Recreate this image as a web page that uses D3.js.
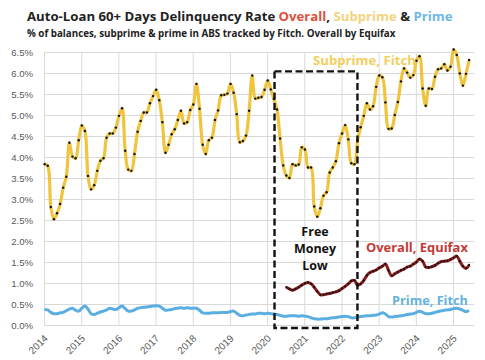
<!DOCTYPE html>
<html><head><meta charset="utf-8">
<script src="https://cdn.jsdelivr.net/npm/d3@7"></script>
<style>html,body{margin:0;padding:0;background:#fff;}svg{display:block;}</style>
</head><body>
<svg id="c" width="485" height="360"></svg>
<script>
// ---- data ----
const firstMonth = "2014-01";
const subprime = [
 3.83,3.79,2.81,2.52,2.66,2.88,3.27,3.53,4.34,4.01,3.97,4.40,
 4.75,4.62,3.55,3.23,3.33,3.67,3.91,3.97,4.46,4.56,4.56,4.70,
 4.98,5.16,4.15,3.70,3.67,4.07,4.60,4.86,5.06,5.06,5.28,5.45,
 5.60,5.35,4.83,4.10,4.29,4.54,4.66,4.88,5.10,4.80,4.83,5.12,
 5.25,5.74,5.15,4.29,4.07,4.40,4.46,4.88,5.11,5.47,5.48,5.51,
 5.74,5.53,5.02,4.35,4.38,4.51,5.10,5.94,5.39,5.41,5.43,5.60,
 5.82,5.61,5.38,5.13,4.44,3.80,3.56,3.50,3.83,3.80,3.82,4.23,
 4.18,3.75,3.75,2.82,2.58,2.78,3.08,3.16,3.63,3.75,3.90,4.33,
 4.56,4.76,4.42,3.85,3.83,4.40,4.71,4.98,5.28,5.13,5.21,5.67,
 5.94,5.90,5.30,4.67,4.68,5.00,5.31,5.80,6.11,6.01,5.89,5.95,
 6.29,6.40,5.63,5.22,5.63,5.62,5.91,6.09,6.11,6.21,6.06,6.15,
 6.56,6.43,5.99,5.70,5.98,6.31
];
const prime = [
 0.37,0.36,0.30,0.27,0.27,0.29,0.30,0.34,0.38,0.40,0.35,0.33,
 0.40,0.45,0.38,0.27,0.25,0.28,0.31,0.33,0.36,0.40,0.38,0.37,
 0.41,0.45,0.39,0.33,0.33,0.36,0.40,0.41,0.42,0.43,0.44,0.45,
 0.46,0.45,0.40,0.35,0.36,0.37,0.39,0.40,0.41,0.40,0.41,0.40,
 0.40,0.40,0.35,0.29,0.28,0.28,0.29,0.29,0.29,0.30,0.30,0.30,
 0.32,0.33,0.28,0.23,0.22,0.24,0.25,0.26,0.26,0.28,0.28,0.27,
 0.28,0.27,0.26,0.25,0.23,0.21,0.21,0.22,0.22,0.22,0.21,0.22,
 0.21,0.20,0.17,0.15,0.14,0.14,0.15,0.15,0.16,0.17,0.18,0.19,
 0.20,0.21,0.20,0.17,0.17,0.19,0.20,0.21,0.22,0.22,0.23,0.24,
 0.26,0.29,0.26,0.20,0.19,0.20,0.21,0.22,0.23,0.25,0.26,0.27,
 0.30,0.33,0.30,0.27,0.27,0.28,0.30,0.32,0.34,0.35,0.36,0.37,
 0.39,0.40,0.38,0.35,0.32,0.34
];
const overallStart = "2020-07";
const overall = [
 0.90,0.86,0.83,0.86,0.90,0.95,
 0.99,1.01,0.98,0.90,0.80,0.72,0.72,0.74,0.75,0.77,0.79,0.82,
 0.87,0.92,0.98,1.05,1.06,0.95,0.98,1.06,1.18,1.25,1.28,1.31,
 1.36,1.40,1.45,1.30,1.17,1.22,1.26,1.30,1.33,1.38,1.40,1.45,
 1.50,1.57,1.52,1.38,1.37,1.39,1.42,1.47,1.51,1.52,1.53,1.56,
 1.60,1.64,1.52,1.40,1.35,1.43
];
const yTicks = [0,0.5,1,1.5,2,2.5,3,3.5,4,4.5,5,5.5,6,6.5];
const xYears = [2014,2015,2016,2017,2018,2019,2020,2021,2022,2023,2024,2025];
const boxRange = [2020.2, 2022.43];
const boxTop = 6.05;

// ---- layout ----
const svg = d3.select("#c");
const L = 44, R = 474, T = 52, B = 325;
const x = d3.scaleLinear().domain([2014, 2025]).range([L, 453]);
const y = d3.scaleLinear().domain([0, 6.5]).range([B, T]);
function monthT(start, i){ const [yy,mm] = start.split("-").map(Number); return yy + (mm-1 + i + 0.2)/12; }

// grid
const g = svg.append("g");
g.append("g").attr("transform",`translate(${L},0)`)
 .call(d3.axisLeft(y).tickValues(yTicks).tickSize(-(R-L)).tickFormat(d=>d3.format(".1f")(d)+"%"))
 .call(a=>{a.select(".domain").remove();
   a.selectAll("line").attr("stroke","#d9d9d9").attr("stroke-width",1);
   a.selectAll("text").attr("x",-11).attr("fill","#595959").style("font-family","Liberation Sans, Arial").style("font-size","9.6px");});
g.append("g").attr("transform",`translate(0,${B})`)
 .call(d3.axisBottom(x).tickValues(xYears).tickSize(-(B-T)).tickFormat(d=>d))
 .call(a=>{a.select(".domain").remove();
   a.selectAll("line").attr("stroke","#d9d9d9").attr("stroke-width",1);
   a.selectAll("text").attr("fill","#595959").style("font-family","Liberation Sans, Arial").style("font-size","10px")
    .attr("text-anchor","end").attr("dy",0).attr("y",0)
    .attr("transform","translate(4,14) rotate(-45)");});

// lines
const lineGen = start => d3.line().x((d,i)=>x(monthT(start,i))).y(d=>y(d)).curve(d3.curveCatmullRom.alpha(0.5));
svg.append("path").datum(prime).attr("d",lineGen(firstMonth)).attr("fill","none").attr("stroke","#5aafe0").attr("stroke-width",3);
svg.append("path").datum(overall).attr("d",lineGen(overallStart)).attr("fill","none").attr("stroke","#8e1b1b").attr("stroke-width",3);
svg.append("g").selectAll("circle").data(overall).join("circle")
 .attr("cx",(d,i)=>x(monthT(overallStart,i))).attr("cy",d=>y(d)).attr("r",1.1).attr("fill","#111");
svg.append("path").datum(subprime).attr("d",lineGen(firstMonth)).attr("fill","none").attr("stroke","#efc43e").attr("stroke-width",3.2);
svg.append("g").selectAll("circle").data(subprime).join("circle")
 .attr("cx",(d,i)=>x(monthT(firstMonth,i))).attr("cy",d=>y(d)).attr("r",1.2).attr("fill","#111");

// dashed box
svg.append("rect").attr("x",x(boxRange[0])).attr("y",y(boxTop)+0.5)
 .attr("width",x(boxRange[1])-x(boxRange[0])).attr("height",328-(y(boxTop)+0.5))
 .attr("fill","none").attr("stroke","#111").attr("stroke-width",2.4).attr("stroke-dasharray","7,3.5");

// fit helper
function fit(sel, w){ const n=sel.node(); const fs=parseFloat(sel.style("font-size")); const cw=n.getComputedTextLength(); sel.style("font-size",(fs*w/cw)+"px"); }
const FF = "Open Sans, Liberation Sans, Arial";

// title
const title = svg.append("text").attr("x",27).attr("y",21).style("font-family",FF).style("font-weight","bold").style("font-size","14px").attr("fill","#222");
title.append("tspan").text("Auto-Loan 60+ Days Delinquency Rate ");
title.append("tspan").attr("fill","#e0503d").text("Overall");
title.append("tspan").text(", ");
title.append("tspan").attr("fill","#f5d37e").text("Subprime");
title.append("tspan").text(" & ");
title.append("tspan").attr("fill","#6fb8e2").text("Prime");
fit(title, 426);
const sub = svg.append("text").attr("x",27).attr("y",37).style("font-family",FF).style("font-weight","bold").style("font-size","11px").attr("fill","#222")
 .text("% of balances, subprime & prime in ABS tracked by Fitch. Overall by Equifax");
fit(sub, 369);

// series labels
const l1 = svg.append("text").attr("x",313).attr("y",65).style("font-family",FF).style("font-weight","bold").style("font-size","13px").attr("fill","#f2cf5e").text("Subprime, Fitch");
fit(l1,103);
const l2 = svg.append("text").attr("x",366).attr("y",252).style("font-family",FF).style("font-weight","bold").style("font-size","13px").attr("fill","#c43a35").text("Overall, Equifax");
fit(l2,102);
const l3 = svg.append("text").attr("x",392).attr("y",305).style("font-family",FF).style("font-weight","bold").style("font-size","13px").attr("fill","#62b3e0").text("Prime, Fitch");
fit(l3,76);
const fm = svg.append("g").style("font-family",FF).style("font-weight","bold").style("font-size","12.5px").attr("fill","#111").attr("text-anchor","middle");
[["Free",236],["Money",253],["Low",270]].forEach(([t,yy])=>fm.append("text").attr("x",315).attr("y",yy).text(t));
</script>
</body></html>
